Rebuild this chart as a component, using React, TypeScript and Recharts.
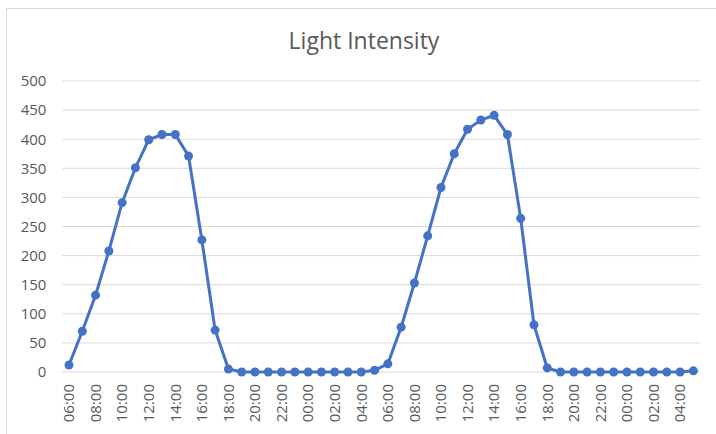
import React from 'react';
import { LineChart, Line, XAxis, YAxis, CartesianGrid } from 'recharts';

const times: string[] = [
  '06:00', '07:00', '08:00', '09:00', '10:00', '11:00', '12:00', '13:00', '14:00', '15:00', '16:00', '17:00',
  '18:00', '19:00', '20:00', '21:00', '22:00', '23:00', '00:00', '01:00', '02:00', '03:00', '04:00', '05:00',
  '06:00', '07:00', '08:00', '09:00', '10:00', '11:00', '12:00', '13:00', '14:00', '15:00', '16:00', '17:00',
  '18:00', '19:00', '20:00', '21:00', '22:00', '23:00', '00:00', '01:00', '02:00', '03:00', '04:00', '05:00',
];

const intensity: number[] = [
  12, 70, 132, 208, 291, 351, 399, 408, 408, 371, 227, 72,
  5, 0, 0, 0, 0, 0, 0, 0, 0, 0, 0, 3,
  14, 77, 153, 234, 317, 375, 417, 433, 441, 408, 264, 81,
  7, 0, 0, 0, 0, 0, 0, 0, 0, 0, 0, 2,
];

const yTicks: number[] = [0, 50, 100, 150, 200, 250, 300, 350, 400, 450, 500];

const data = times.map((t, i) => ({ key: i, time: t, value: intensity[i] }));

const FONT = '"Open Sans", "Noto Sans", sans-serif';
const TEXT = '#595959';

const XTick = (props: any) => {
  const { x, y, payload } = props;
  return (
    <text
      x={x}
      y={y}
      transform={`rotate(-90 ${x} ${y})`}
      textAnchor="end"
      dy="0.35em"
      fill={TEXT}
      fontSize={15}
      fontFamily={FONT}
    >
      {times[payload.value]}
    </text>
  );
};

export default function App() {
  return (
    <div style={{ position: 'absolute', left: 0, top: 0, width: 716, height: 434, overflow: 'hidden', background: '#fff' }}>
      <div
        style={{
          position: 'absolute',
          left: 6,
          top: 8,
          width: 760,
          height: 480,
          border: '1px solid #d9d9d9',
          boxSizing: 'border-box',
        }}
      />
      <LineChart
        width={716}
        height={434}
        data={data}
        margin={{ top: 81, right: 16, bottom: 0, left: 0 }}
        style={{ position: 'absolute', left: 0, top: 0 }}
      >
        <CartesianGrid vertical={false} stroke="#d9d9d9" strokeWidth={1} />
        <XAxis
          dataKey="key"
          type="category"
          interval={1}
          tick={<XTick />}
          tickLine={false}
          axisLine={false}
          tickSize={0}
          tickMargin={12}
          height={62}
          padding={{ left: 6.6, right: 6.6 }}
        />
        <YAxis
          domain={[0, 500]}
          ticks={yTicks}
          width={62.4}
          tickLine={false}
          axisLine={false}
          tickSize={0}
          tickMargin={16}
          tick={{ fill: TEXT, fontSize: 15, fontFamily: FONT }}
          interval={0}
        />
        <Line
          type="linear"
          dataKey="value"
          stroke="#4472C4"
          strokeWidth={3}
          dot={{ r: 4.5, fill: '#4472C4', stroke: '#4472C4', strokeWidth: 0 }}
          isAnimationActive={false}
        />
      </LineChart>
      <svg width={716} height={434} style={{ position: 'absolute', left: 0, top: 0, pointerEvents: 'none' }}>
        <text x={364} y={49} textAnchor="middle" fill={TEXT} fontSize={23} fontFamily={FONT}>
          Light Intensity
        </text>
      </svg>
    </div>
  );
}
